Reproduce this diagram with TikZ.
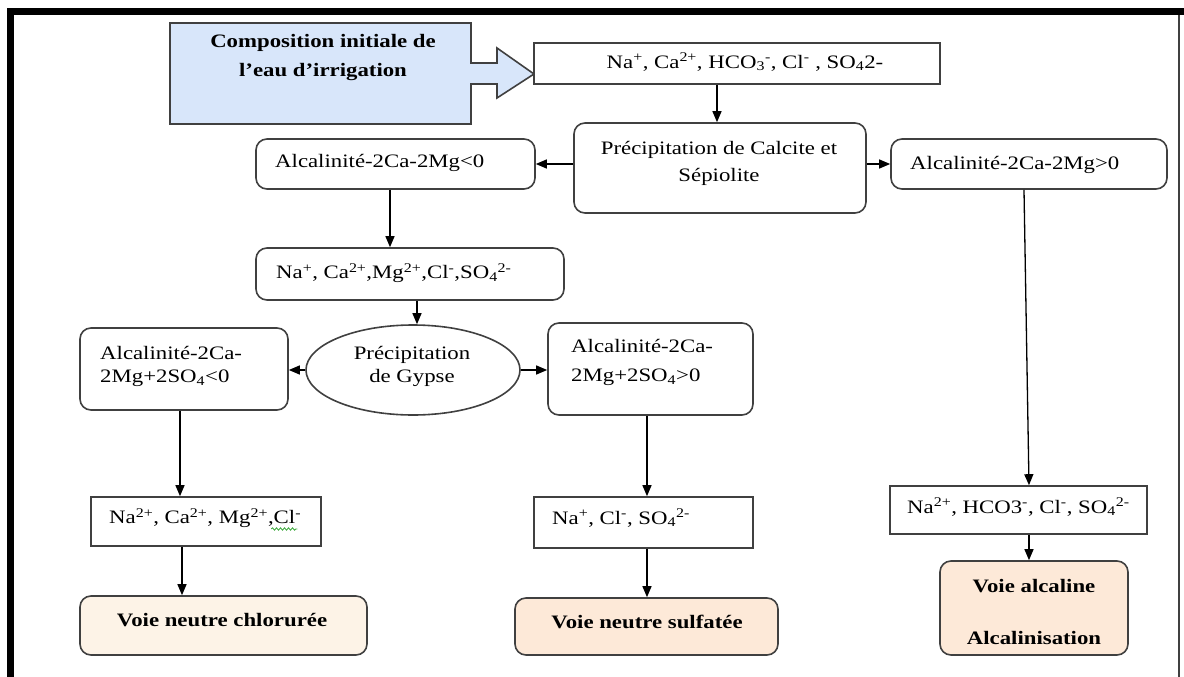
\documentclass[tikz,border=0pt]{standalone}
\usepackage{fontspec}
\setmainfont{Liberation Serif}[FakeStretch=1.2]
\usetikzlibrary{arrows.meta,shapes.geometric,decorations.pathmorphing}
\definecolor{initblue}{RGB}{216,230,250}
\definecolor{peachA}{RGB}{253,243,231}
\definecolor{peachB}{RGB}{253,233,216}
\definecolor{bord}{RGB}{64,64,64}
\definecolor{spell}{RGB}{60,170,60}
\begin{document}
\begin{tikzpicture}[x=1pt,y=-1pt,
  every node/.style={font=\fontsize{19}{23}\selectfont},
  rbox/.style={draw=bord, line width=1.6pt, rounded corners=11pt, inner sep=0pt, fill=white},
  sbox/.style={draw=bord, line width=1.6pt, inner sep=0pt, fill=white},
  ebox/.style={ellipse, draw=bord, line width=1.6pt, inner sep=0pt, fill=white},
  txt/.style={inner sep=0pt, align=left, anchor=west},
  ctxt/.style={inner sep=0pt, align=center},
  btxt/.style={inner sep=0pt, align=center, font=\fontsize{19}{23}\selectfont\bfseries},
  conn/.style={line width=1.3pt, -{Triangle[width=9pt,length=11pt]}},
  squiggle/.style={draw=spell, line width=0.8pt, decorate, decoration={snake, amplitude=1.2pt, segment length=4pt}},
]
\useasboundingbox (0,0) rectangle (1184,677);
% frame
\fill[black] (7,8) rectangle (1184,15);
\fill[black] (7,8) rectangle (14,677);
\draw[bord, line width=1.5pt] (1179,15) -- (1179,677);

% initial composition callout
\filldraw[fill=initblue, draw=bord, line width=1.6pt]
  (170,23) -- (471,23) -- (471,63) -- (497,63) -- (497,48) -- (534,74)
  -- (497,98) -- (497,84) -- (471,84) -- (471,124) -- (170,124) -- cycle;
\node[btxt, font=\fontsize{19}{29}\selectfont\bfseries] (init) at (323,57.5) {Composition initiale de\\l’eau d’irrigation};

% boxes
\node[sbox, minimum width=406, minimum height=41] (n2) at (737,63.5) {};
\node[rbox, minimum width=292, minimum height=90] (n3) at (720,168) {};
\node[rbox, minimum width=279, minimum height=50] (n4) at (395.5,164) {};
\node[rbox, minimum width=276, minimum height=50] (n5) at (1029,164) {};
\node[rbox, minimum width=308, minimum height=52] (n6) at (410,274) {};
\node[ebox, minimum width=214, minimum height=90] (ell) at (413,370) {};
\node[rbox, minimum width=208, minimum height=82] (n8) at (184,369) {};
\node[rbox, minimum width=205, minimum height=92] (n9) at (650.5,369) {};
\node[sbox, minimum width=230, minimum height=49] (n10) at (206,521.5) {};
\node[rbox, fill=peachA, minimum width=287, minimum height=59] (n11) at (223.5,625.5) {};
\node[sbox, minimum width=219, minimum height=51] (n12) at (643.5,522.5) {};
\node[rbox, fill=peachB, minimum width=263, minimum height=57] (n13) at (646.5,626.5) {};
\node[sbox, minimum width=257, minimum height=48] (n14) at (1018.5,510) {};
\node[rbox, fill=peachB, minimum width=188, minimum height=94] (n15) at (1034,608) {};

% texts
\node[ctxt] (n2t) at (745,62) {Na\textsuperscript{+}, Ca\textsuperscript{2+}, HCO\textsubscript{3}\textsuperscript{-}, Cl\textsuperscript{-} , SO\textsubscript{4}2-};
\node[ctxt, font=\fontsize{19}{27}\selectfont] (n3t) at (719,163.5) {Précipitation de Calcite et\\Sépiolite};
\node[txt] (n4t) at (275,163) {Alcalinité-2Ca-2Mg<0};
\node[txt] (n5t) at (910,165) {Alcalinité-2Ca-2Mg>0};
\node[txt] (n6t) at (276,273) {Na\textsuperscript{+}, Ca\textsuperscript{2+},Mg\textsuperscript{2+},Cl\textsuperscript{-},SO\textsubscript{4}\textsuperscript{2-}};
\node[ctxt] (ellt) at (412,366.5) {Précipitation\\de Gypse};
\node[txt] (n8t) at (100,366.5) {Alcalinité-2Ca-\\2Mg+2SO\textsubscript{4}<0};
\node[txt, font=\fontsize{19}{29}\selectfont] (n9t) at (571,362.5) {Alcalinité-2Ca-\\2Mg+2SO\textsubscript{4}>0};
\node[txt] (n10t) at (109,518) {Na\textsuperscript{2+}, Ca\textsuperscript{2+}, Mg\textsuperscript{2+},Cl\textsuperscript{-}};
\node[btxt] (n11t) at (222,620) {Voie neutre chlorurée};
\node[txt] (n12t) at (552,518) {Na\textsuperscript{+}, Cl\textsuperscript{-}, SO\textsubscript{4}\textsuperscript{2-}};
\node[btxt] (n13t) at (647,622) {Voie neutre sulfatée};
\node[txt] (n14t) at (907,507) {Na\textsuperscript{2+}, HCO3\textsuperscript{-}, Cl\textsuperscript{-}, SO\textsubscript{4}\textsuperscript{2-}};
\node[btxt, font=\fontsize{19}{52}\selectfont\bfseries] (n15t) at (1034,612) {Voie alcaline\\Alcalinisation};

% spell-check underline under "Cl"
\draw[squiggle] ([xshift=-30pt,yshift=-11pt]n10t.east) -- ([xshift=-4pt,yshift=-11pt]n10t.east);

% connectors
\draw[conn] ([xshift=-3pt]n3.north |- n2.south) -- ([xshift=-3pt]n3.north);
\draw[conn] (n4.east -| n3.west) -- (n4.east);
\draw[conn] (n5.west -| n3.east) -- (n5.west);
\draw[conn] ([xshift=-5.5pt]n4.south) -- ([xshift=-5.5pt]n4.south |- n6.north);
\draw[conn] ([xshift=4pt]ell.north |- n6.south) -- ([xshift=4pt]ell.north);
\draw[conn] (ell.west) -- (ell.west -| n8.east);
\draw[conn] (ell.east) -- (ell.east -| n9.west);
\draw[conn] ([xshift=-4pt]n8.south) -- ([xshift=-4pt]n8.south |- n10.north);
\draw[conn] ([xshift=-24pt]n10.south) -- ([xshift=-24pt]n10.south |- n11.north);
\draw[conn] ([xshift=-3.5pt]n9.south) -- ([xshift=-3.5pt]n9.south |- n12.north);
\draw[conn] ([xshift=3.5pt]n12.south) -- ([xshift=3.5pt]n12.south |- n13.north);
\draw[conn] ([xshift=-5pt]n5.south) -- ([xshift=10.5pt]n14.north);
\draw[conn] ([xshift=10.5pt]n14.south) -- ([xshift=-5pt]n15.north);
\end{tikzpicture}
\end{document}
